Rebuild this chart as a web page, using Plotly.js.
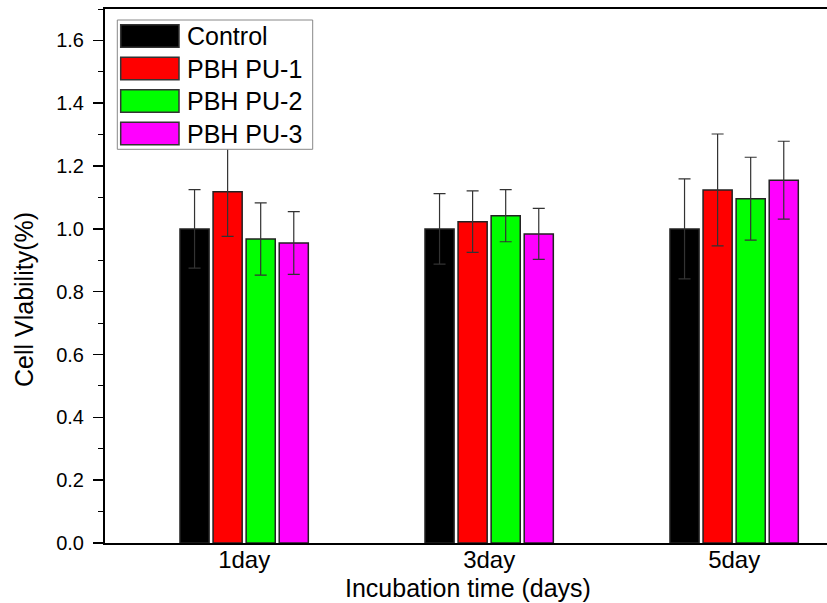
<!DOCTYPE html>
<html>
<head>
<meta charset="utf-8">
<script src="https://cdn.plot.ly/plotly-3.0.1.min.js"></script>
<style>html,body{margin:0;padding:0;background:#fff;}#chart{width:827px;height:603px;}</style>
</head>
<body>
<div id="chart"></div>
<script>
// ---- data ----
const categories = ['1day', '3day', '5day'];
const seriesNames = ['Control', 'PBH PU-1', 'PBH PU-2', 'PBH PU-3'];
const control = [1.000, 1.000, 1.000];
const pu1 = [1.118, 1.023, 1.124];
const pu2 = [0.968, 1.042, 1.096];
const pu3 = [0.955, 0.984, 1.155];
const controlErr = [0.125, 0.112, 0.159];
const pu1Err = [0.142, 0.098, 0.178];
const pu2Err = [0.115, 0.083, 0.132];
const pu3Err = [0.100, 0.081, 0.124];
const seriesColors = ['#000000', '#ff0000', '#00ff00', '#ff00ff'];
const yTickVals = [0, 0.2, 0.4, 0.6, 0.8, 1.0, 1.2, 1.4, 1.6];
const xTitle = 'Incubation time (days)';
const yTitle = 'Cell Vlability(%)';

// ---- layout geometry ----
const W = 827, H = 603;
const M = {l: 105, r: 0, t: 9, b: 60};
const PW = W - M.l - M.r, PH = H - M.t - M.b;
const FONT = 'Liberation Sans, Arial, sans-serif';
const px = x => (x - M.l) / PW;
const py = y => (H - M.b - y) / PH;

const values = [control, pu1, pu2, pu3];
const errs = [controlErr, pu1Err, pu2Err, pu3Err];

const traces = seriesNames.map((name, i) => ({
  type: 'bar',
  name: name,
  x: categories,
  y: values[i],
  marker: {color: seriesColors[i], line: {color: '#222222', width: 1.5}},
  error_y: {type: 'data', array: errs[i], visible: true, color: '#333333', thickness: 1.2, width: 6},
  showlegend: false
}));

// manual legend (box + swatches + labels)
const shapes = [{
  type: 'rect', xref: 'paper', yref: 'paper', layer: 'above',
  x0: px(117.3), x1: px(312.7), y0: py(149.3), y1: py(20),
  fillcolor: '#ffffff', line: {color: '#888888', width: 1}
}];
const annotations = [];
seriesNames.forEach((name, i) => {
  const top = 24.7 + i * 32.55;
  shapes.push({
    type: 'rect', xref: 'paper', yref: 'paper', layer: 'above',
    x0: px(120.7), x1: px(179), y0: py(top + 22.5), y1: py(top),
    fillcolor: seriesColors[i], line: {color: '#333333', width: 1.5}
  });
  annotations.push({
    xref: 'paper', yref: 'paper', x: px(185), y: py(top + 11.5),
    xanchor: 'left', yanchor: 'middle', showarrow: false,
    text: name, font: {family: FONT, size: 25, color: '#000'}
  });
});
annotations.push({
  xref: 'paper', yref: 'paper', x: px(24), y: py(300),
  xanchor: 'center', yanchor: 'middle', showarrow: false, textangle: -90,
  text: yTitle, font: {family: FONT, size: 25, color: '#000'}
});
annotations.push({
  xref: 'paper', yref: 'paper', x: px(468), y: py(588),
  xanchor: 'center', yanchor: 'middle', showarrow: false,
  text: xTitle, font: {family: FONT, size: 25, color: '#000'}
});

const layout = {
  width: W, height: H,
  margin: M,
  paper_bgcolor: '#ffffff', plot_bgcolor: '#ffffff',
  font: {family: FONT, color: '#000'},
  barmode: 'group', bargap: 0.46, bargroupgap: 0.12,
  showlegend: false,
  xaxis: {
    type: 'category', range: [-0.568, 2.379],
    showline: true, linecolor: '#000', linewidth: 2, mirror: true,
    ticks: '', showgrid: false, zeroline: false,
    ticklabelstandoff: -6,
    tickfont: {family: FONT, size: 24, color: '#000'}
  },
  yaxis: {
    range: [0, 1.70], tickvals: yTickVals, tickformat: '.1f',
    showline: true, linecolor: '#000', linewidth: 2, mirror: false,
    ticks: 'outside', ticklen: 10, tickwidth: 1.5, tickcolor: '#000',
    ticklabelstandoff: 5,
    minor: {dtick: 0.1, ticks: 'outside', ticklen: 5, tickwidth: 1, tickcolor: '#000'},
    showgrid: false, zeroline: false,
    tickfont: {family: FONT, size: 20, color: '#000'}
  },
  shapes: shapes,
  annotations: annotations
};

Plotly.newPlot('chart', traces, layout, {displayModeBar: false, staticPlot: true});
</script>
</body>
</html>
